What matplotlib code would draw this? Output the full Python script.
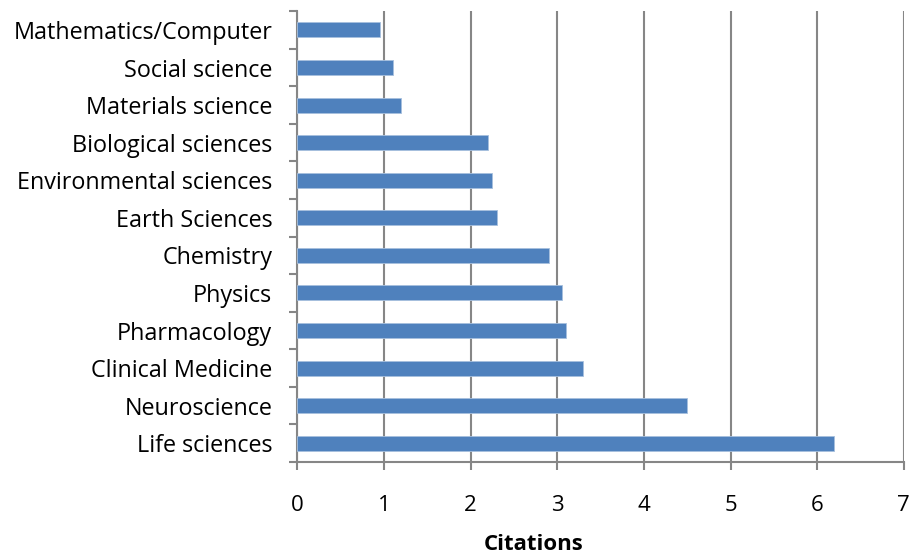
import numpy as np
import matplotlib.pyplot as plt
from matplotlib.ticker import FixedLocator

# Categories listed bottom to top
fields = ['Life sciences', 'Neuroscience', 'Clinical Medicine', 'Pharmacology',
          'Physics', 'Chemistry', 'Earth Sciences', 'Environmental sciences',
          'Biological sciences', 'Materials science', 'Social science',
          'Mathematics/Computer']
citations = [6.2, 4.5, 3.3, 3.1, 3.05, 2.9, 2.3, 2.25, 2.2, 1.2, 1.1, 0.95]
x_ticks = [0, 1, 2, 3, 4, 5, 6, 7]

plt.rcParams['font.family'] = ['Open Sans', 'DejaVu Sans']

fig = plt.figure(figsize=(9.12, 5.58), dpi=100)
ax = fig.add_axes([0.326, 0.172, 0.665, 0.808])

y = np.arange(len(fields))
ax.barh(y, citations, height=0.4, color='#4F81BD', edgecolor='#A7C0DE',
        linewidth=0.6, zorder=3)

ax.set_xlim(0, 7)
ax.set_ylim(-0.5, len(fields) - 0.5)
ax.set_xticks(x_ticks)
ax.set_xticklabels([str(t) for t in x_ticks], fontsize=16)

# tick marks between categories, labels at the centers
ax.yaxis.set_major_locator(FixedLocator(np.arange(-0.5, len(fields), 1)))
ax.yaxis.set_major_formatter(plt.NullFormatter())
ax.yaxis.set_minor_locator(FixedLocator(y))
ax.set_yticklabels(fields, minor=True, fontsize=16.8)
ax.tick_params(axis='y', which='minor', length=0, pad=18)
ax.tick_params(axis='y', which='major', length=6, width=1.5, color='#868686')
ax.tick_params(axis='x', length=6, width=1.5, color='#868686', pad=18)

ax.grid(axis='x', color='#868686', linewidth=1.5, zorder=0)
for side in ['top', 'right']:
    ax.spines[side].set_visible(False)
for side in ['left', 'bottom']:
    ax.spines[side].set_color('#868686')
    ax.spines[side].set_linewidth(1.5)

ax.set_xlabel('Citations', fontsize=16, fontweight='bold')
ax.xaxis.set_label_coords(0.389, -0.16)

fig.savefig('out.png', dpi=100)
